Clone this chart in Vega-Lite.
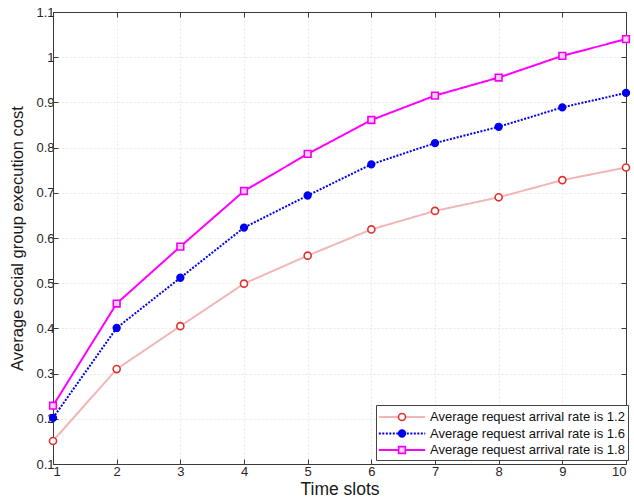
{
  "$schema": "https://vega.github.io/schema/vega-lite/v6.json",
  "width": 573,
  "height": 452,
  "autosize": {"type": "none"},
  "padding": {"left": 53, "top": 12, "right": 8, "bottom": 38},
  "background": "white",
  "config": {
    "font": "Liberation Sans",
    "view": {"stroke": "#3a3a3a", "strokeWidth": 1},
    "axis": {
      "labelFont": "Liberation Sans",
      "labelFontSize": 13,
      "labelColor": "#262626",
      "titleFont": "Liberation Sans",
      "titleFontWeight": "normal",
      "titleColor": "#1a1a1a",
      "tickColor": "#3a3a3a",
      "domainColor": "#3a3a3a",
      "tickSize": -5,
      "gridColor": "#e9e9e9",
      "gridDash": [2, 2]
    }
  },
  "data": {
    "values": [
      {"slot": 1, "cost": 0.151, "series": "Average request arrival rate is 1.2", "marker": "m1.2"},
      {"slot": 2, "cost": 0.31, "series": "Average request arrival rate is 1.2", "marker": "m1.2"},
      {"slot": 3, "cost": 0.405, "series": "Average request arrival rate is 1.2", "marker": "m1.2"},
      {"slot": 4, "cost": 0.499, "series": "Average request arrival rate is 1.2", "marker": "m1.2"},
      {"slot": 5, "cost": 0.561, "series": "Average request arrival rate is 1.2", "marker": "m1.2"},
      {"slot": 6, "cost": 0.619, "series": "Average request arrival rate is 1.2", "marker": "m1.2"},
      {"slot": 7, "cost": 0.66, "series": "Average request arrival rate is 1.2", "marker": "m1.2"},
      {"slot": 8, "cost": 0.69, "series": "Average request arrival rate is 1.2", "marker": "m1.2"},
      {"slot": 9, "cost": 0.728, "series": "Average request arrival rate is 1.2", "marker": "m1.2"},
      {"slot": 10, "cost": 0.756, "series": "Average request arrival rate is 1.2", "marker": "m1.2"},
      {"slot": 1, "cost": 0.202, "series": "Average request arrival rate is 1.6", "marker": "m1.6"},
      {"slot": 2, "cost": 0.401, "series": "Average request arrival rate is 1.6", "marker": "m1.6"},
      {"slot": 3, "cost": 0.512, "series": "Average request arrival rate is 1.6", "marker": "m1.6"},
      {"slot": 4, "cost": 0.623, "series": "Average request arrival rate is 1.6", "marker": "m1.6"},
      {"slot": 5, "cost": 0.694, "series": "Average request arrival rate is 1.6", "marker": "m1.6"},
      {"slot": 6, "cost": 0.763, "series": "Average request arrival rate is 1.6", "marker": "m1.6"},
      {"slot": 7, "cost": 0.81, "series": "Average request arrival rate is 1.6", "marker": "m1.6"},
      {"slot": 8, "cost": 0.846, "series": "Average request arrival rate is 1.6", "marker": "m1.6"},
      {"slot": 9, "cost": 0.889, "series": "Average request arrival rate is 1.6", "marker": "m1.6"},
      {"slot": 10, "cost": 0.921, "series": "Average request arrival rate is 1.6", "marker": "m1.6"},
      {"slot": 1, "cost": 0.229, "series": "Average request arrival rate is 1.8", "marker": "m1.8"},
      {"slot": 2, "cost": 0.455, "series": "Average request arrival rate is 1.8", "marker": "m1.8"},
      {"slot": 3, "cost": 0.581, "series": "Average request arrival rate is 1.8", "marker": "m1.8"},
      {"slot": 4, "cost": 0.704, "series": "Average request arrival rate is 1.8", "marker": "m1.8"},
      {"slot": 5, "cost": 0.786, "series": "Average request arrival rate is 1.8", "marker": "m1.8"},
      {"slot": 6, "cost": 0.861, "series": "Average request arrival rate is 1.8", "marker": "m1.8"},
      {"slot": 7, "cost": 0.915, "series": "Average request arrival rate is 1.8", "marker": "m1.8"},
      {"slot": 8, "cost": 0.955, "series": "Average request arrival rate is 1.8", "marker": "m1.8"},
      {"slot": 9, "cost": 1.003, "series": "Average request arrival rate is 1.8", "marker": "m1.8"},
      {"slot": 10, "cost": 1.04, "series": "Average request arrival rate is 1.8", "marker": "m1.8"}
    ]
  },
  "layer": [
    {
      "mark": {"type": "line", "strokeWidth": 2},
      "encoding": {
        "x": {
          "field": "slot", "type": "quantitative",
          "scale": {"domain": [1, 10], "nice": false, "zero": false},
          "axis": {"orient": "bottom", "values": [1, 2, 3, 4, 5, 6, 7, 8, 9, 10], "title": "Time slots", "titleFontSize": 17.5, "labelPadding": 6, "titlePadding": 2, "grid": true}
        },
        "y": {
          "field": "cost", "type": "quantitative",
          "scale": {"domain": [0.1, 1.1], "nice": false, "zero": false},
          "axis": {"orient": "left", "values": [0.1, 0.2, 0.3, 0.4, 0.5, 0.6, 0.7, 0.8, 0.9, 1, 1.1], "format": "~g", "title": "Average social group execution cost", "titleFontSize": 16.5, "labelPadding": 4, "titlePadding": 10, "grid": true}
        },
        "color": {
          "field": "series", "type": "nominal",
          "scale": {
            "domain": ["Average request arrival rate is 1.2", "Average request arrival rate is 1.6", "Average request arrival rate is 1.8"],
            "range": ["#f2b6b6", "#0000f0", "#ff00ff"]
          },
          "legend": {
            "title": null, "orient": "none", "legendX": 323, "legendY": 393,
            "symbolType": "M-2.9,0L2.9,0", "symbolSize": 256, "symbolStrokeWidth": 2, "symbolOffset": 14,
            "labelFont": "Liberation Sans", "labelFontSize": 13, "labelColor": "#111111", "labelLimit": 400,
            "labelOffset": 19, "padding": 3, "rowPadding": 0.5,
            "strokeColor": "#444444", "fillColor": "white", "zindex": 1
          }
        },
        "strokeDash": {
          "field": "series", "type": "nominal",
          "scale": {
            "domain": ["Average request arrival rate is 1.2", "Average request arrival rate is 1.6", "Average request arrival rate is 1.8"],
            "range": [[1, 0], [2, 1.5], [1, 0]]
          }
        }
      }
    },
    {
      "mark": {"type": "point", "filled": true, "size": 256, "strokeWidth": 1.6, "opacity": 1},
      "encoding": {
        "x": {
          "field": "slot", "type": "quantitative",
          "scale": {"domain": [1, 10], "nice": false, "zero": false},
          "axis": {"orient": "top", "values": [1, 2, 3, 4, 5, 6, 7, 8, 9, 10], "labels": false, "title": null, "grid": false, "domain": true}
        },
        "y": {
          "field": "cost", "type": "quantitative",
          "scale": {"domain": [0.1, 1.1], "nice": false, "zero": false},
          "axis": {"orient": "right", "values": [0.1, 0.2, 0.3, 0.4, 0.5, 0.6, 0.7, 0.8, 0.9, 1, 1.1], "labels": false, "title": null, "grid": false, "domain": true}
        },
        "shape": {
          "field": "marker", "type": "nominal",
          "scale": {
            "domain": ["m1.2", "m1.6", "m1.8"],
            "range": [
              "M-0.44,0A0.44,0.44,0,1,1,0.44,0A0.44,0.44,0,1,1,-0.44,0Z",
              "M-0.42,0A0.42,0.42,0,1,1,0.42,0A0.42,0.42,0,1,1,-0.42,0Z",
              "M-0.42,-0.42H0.42V0.42H-0.42Z"
            ]
          },
          "legend": {
            "title": null, "orient": "none", "legendX": 323, "legendY": 393,
            "symbolSize": 256, "symbolStrokeWidth": 1.6, "symbolOffset": 14,
            "labelExpr": "''", "labelFontSize": 13, "labelLimit": 400,
            "labelOffset": 19, "padding": 3, "rowPadding": 0.5,
            "strokeColor": null, "fillColor": null, "zindex": 2
          }
        },
        "stroke": {
          "field": "marker", "type": "nominal",
          "scale": {"domain": ["m1.2", "m1.6", "m1.8"], "range": ["#e0322c", "#0000f0", "#f000f0"]}
        },
        "fill": {
          "field": "marker", "type": "nominal",
          "scale": {"domain": ["m1.2", "m1.6", "m1.8"], "range": ["#ffffff", "#0000f0", "#ffd0ff"]}
        }
      }
    }
  ],
  "resolve": {"axis": {"x": "independent", "y": "independent"}}
}
